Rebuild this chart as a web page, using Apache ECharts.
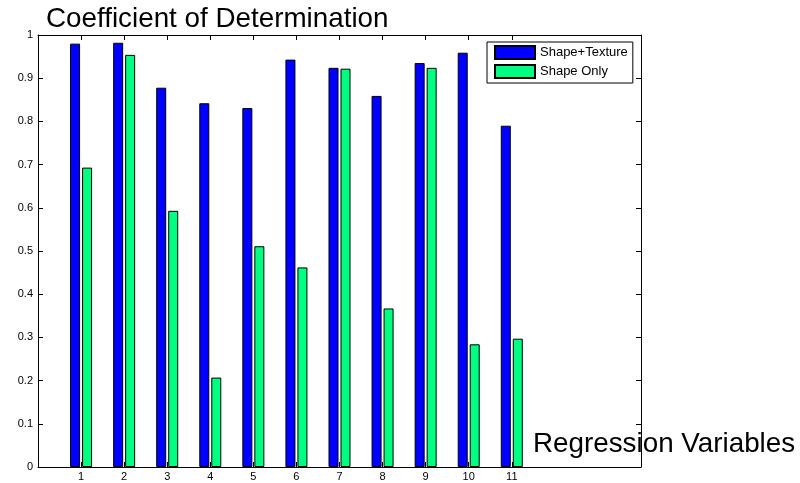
<!DOCTYPE html>
<html>
<head>
<meta charset="utf-8">
<script src="https://cdn.jsdelivr.net/npm/echarts@6/dist/echarts.min.js"></script>
<style>
  html, body { margin: 0; padding: 0; background: #fff; }
  #chart { width: 800px; height: 483px; }
</style>
</head>
<body>
<div id="chart"></div>
<script>
  // regression variable index on the x axis
  const categories = [1, 2, 3, 4, 5, 6, 7, 8, 9, 10, 11];
  const shapeTexture = [0.980, 0.982, 0.878, 0.842, 0.831, 0.943, 0.924, 0.859, 0.935, 0.959, 0.790];
  const shapeOnly = [0.693, 0.954, 0.593, 0.207, 0.511, 0.462, 0.922, 0.367, 0.924, 0.284, 0.297];
  const seriesNames = ['Shape+Texture', 'Shape Only'];

  const font = 'Liberation Sans, Arial, sans-serif';
  const axisLine = { show: true, onZero: false, lineStyle: { color: '#000', width: 1 } };
  const tick = { inside: true, length: 5, lineStyle: { color: '#000' } };

  const chart = echarts.init(document.getElementById('chart'));

  const toPairs = (vals) => categories.map((c, i) => [c, vals[i]]);

  chart.setOption({
    animation: false,
    backgroundColor: '#fff',
    title: [
      {
        text: 'Coefficient of Determination',
        left: 46,
        top: 5,
        padding: 0,
        textStyle: { fontFamily: font, fontSize: 27.8, fontWeight: 'normal', color: '#000' },
      },
      {
        text: 'Regression Variables',
        left: 533,
        top: 430,
        padding: 0,
        textStyle: { fontFamily: font, fontSize: 27.8, fontWeight: 'normal', color: '#000' },
      },
    ],
    legend: {
      orient: 'vertical',
      left: 487,
      top: 42,
      padding: [3, 5, 4, 7],
      itemWidth: 40,
      itemHeight: 13,
      itemGap: 4,
      borderColor: '#000',
      borderWidth: 1,
      backgroundColor: '#fff',
      icon: 'rect',
      textStyle: { fontFamily: font, fontSize: 13, color: '#000' },
      data: seriesNames,
    },
    grid: { left: 38, right: 159, top: 35, bottom: 16, containLabel: false },
    xAxis: [
      {
        type: 'value',
        min: 0,
        max: 14,
        interval: 1,
        axisLine: axisLine,
        splitLine: { show: false },
        axisTick: Object.assign({ customValues: categories }, tick),
        axisLabel: {
          customValues: categories,
          margin: 4,
          fontFamily: font,
          fontSize: 11,
          color: '#000',
        },
      },
      {
        type: 'value',
        position: 'top',
        min: 0,
        max: 14,
        interval: 1,
        axisLine: axisLine,
        splitLine: { show: false },
        axisTick: Object.assign({ customValues: categories }, tick),
        axisLabel: { show: false },
      },
    ],
    yAxis: [
      {
        type: 'value',
        min: 0,
        max: 1,
        interval: 0.1,
        axisLine: axisLine,
        splitLine: { show: false },
        axisTick: tick,
        axisLabel: { margin: 5, fontFamily: font, fontSize: 11, color: '#000' },
      },
      {
        type: 'value',
        position: 'right',
        min: 0,
        max: 1,
        interval: 0.1,
        axisLine: axisLine,
        splitLine: { show: false },
        axisTick: tick,
        axisLabel: { show: false },
      },
    ],
    series: [
      {
        name: seriesNames[0],
        type: 'bar',
        barWidth: 10,
        barGap: '20%',
        itemStyle: { color: '#0000ff', borderColor: '#000', borderWidth: 1 },
        data: toPairs(shapeTexture),
      },
      {
        name: seriesNames[1],
        type: 'bar',
        barWidth: 10,
        barGap: '20%',
        itemStyle: { color: '#00ff80', borderColor: '#000', borderWidth: 1 },
        data: toPairs(shapeOnly),
      },
    ],
  });
</script>
</body>
</html>
